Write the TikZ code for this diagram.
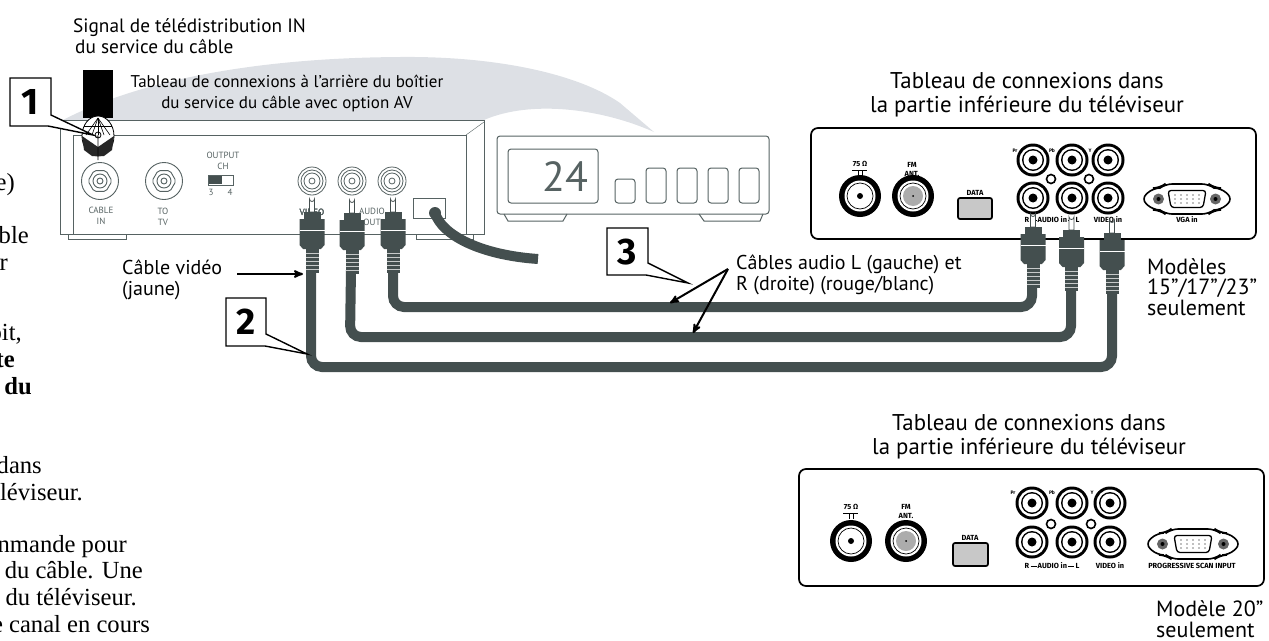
\documentclass[tikz,border=0pt]{standalone}
\usepackage{fontspec}
\setmainfont{Liberation Serif}
\setsansfont{PT Sans}
\newfontfamily\tinylabel{Fira Sans}
\usepackage{tikz}
\usetikzlibrary{arrows}
\usetikzlibrary{calc}
\definecolor{cabledark}{HTML}{444F4F}
\definecolor{boxline}{HTML}{566262}
\definecolor{swoosh}{HTML}{DDE0E5}
\definecolor{lightfill}{HTML}{C8C8C8}
% RCA plug, pin tip at (#1,#2)
\newcommand{\rcaplug}[2]{
  \begin{scope}[shift={(#1,#2)}]
    \draw[fill=white,draw=cabledark,line width=.8pt] (-2.5,15) -- (-2.5,2) arc (180:0:2.5) -- (2.5,15) -- cycle;
    \fill[cabledark] (-8.5,15) rectangle (8.5,22);
    \fill[cabledark] (-12.5,22) -- (12.5,22) -- (12.5,48) -- (9,52) -- (-9,52) -- (-12.5,48) -- cycle;
    \draw[white,line width=.6pt] (-12.5,33) -- (12.5,33);
    \fill[cabledark] (-6.5,52) rectangle (6.5,76);
    \foreach \s in {56,60,...,72} \draw[white!70!cabledark,line width=1pt] (-6.5,\s) -- (6.5,\s);
  \end{scope}
}
% jack on the cable box
\newcommand{\rcajack}[2]{
  \foreach \r in {14,11,8,3} \draw[boxline,line width=.8pt] (#1,#2) circle (\r);
}
% coax socket on the cable box
\newcommand{\coaxjack}[2]{
  \draw[boxline,line width=.9pt] (#1,#2) circle (18.5);
  \draw[boxline,line width=.9pt,rounded corners=2pt,shift={(#1,#2)}] (0:12) -- (60:12) -- (120:12) -- (180:12) -- (240:12) -- (300:12) -- cycle;
  \draw[boxline,line width=.9pt] (#1,#2) circle (7) (#1,#2) circle (3);
}
% jack on the TV
\newcommand{\tvjack}[2]{
  \fill[black] (#1,#2) circle (16.5);
  \fill[white] (#1,#2) circle (13.5);
  \fill[black] (#1,#2) circle (11);
  \fill[white] (#1,#2) circle (9.5);
  \fill[black] (#1,#2) circle (4.5);
}
% antenna socket on the TV
\newcommand{\antjack}[2]{
  \fill[black] (#1,#2) circle (21);
  \fill[white] (#1,#2) circle (15.5);
  \draw[black,line width=.7pt] (#1,#2) circle (13);
}
% VGA socket: centre, half width, screw offset
\newcommand{\vgaport}[4]{
  \draw[black,line width=1.6pt,rounded corners=7pt] (#1-#3,#2) -- (#1-#3+12,#2-11) -- (#1-27,#2-11) -- (#1-22,#2-15) -- (#1+22,#2-15) -- (#1+27,#2-11) -- (#1+#3-12,#2-11) -- (#1+#3,#2) -- (#1+#3-12,#2+11) -- (#1+27,#2+11) -- (#1+22,#2+15) -- (#1-22,#2+15) -- (#1-27,#2+11) -- (#1-#3+12,#2+11) -- cycle;
  \draw[black,line width=1.3pt,rounded corners=3pt,fill=white] (#1-19,#2-8.5) -- (#1+19,#2-8.5) -- (#1+16,#2+8.5) -- (#1-16,#2+8.5) -- cycle;
  \foreach \i in {-12,-6,...,12} \foreach \j in {-4,0,4} \fill[gray] (#1+\i,#2+\j) circle (.8);
  \foreach \sx in {-1,1} {
    \fill[gray!80!black] ({#1+\sx*#4},#2) circle (5.5);
    \fill[black] ({#1+\sx*#4},#2) circle (2);
  }
}

\begin{document}
\begin{tikzpicture}[
    x=1pt,y=-1pt,
    thinbox/.style={draw=boxline,line width=1pt},
    softbox/.style={thinbox,rounded corners=3pt},
    tvpanel/.style={draw=black,line width=1.7pt,rounded corners=7pt},
    cable/.style={draw=cabledark,line width=10pt,rounded corners=11pt},
    callout/.style={draw=black,line width=1.4pt,fill=white},
    pointer/.style={->,>=stealth',line width=2pt},
    numlabel/.style={font=\tinylabel\bfseries\fontsize{37}{37}\selectfont,inner sep=0pt},
    caption/.style={font=\sffamily\fontsize{17}{21}\selectfont,align=center,inner sep=0pt},
    bigcaption/.style={font=\sffamily\fontsize{22.8}{24}\selectfont,align=center,inner sep=0pt},
    leftcaption/.style={font=\sffamily\fontsize{20}{21}\selectfont,align=left,inner sep=0pt},
    modelnote/.style={font=\sffamily\fontsize{22}{20.5}\selectfont,align=left,inner sep=0pt},
    boxtext/.style={font=\sffamily\fontsize{9}{10.5}\selectfont,text=boxline,align=center,inner sep=0pt},
    tvtext/.style={font=\tinylabel\bfseries\fontsize{7.4}{9}\selectfont,align=center,inner sep=0pt},
    tvtiny/.style={font=\tinylabel\bfseries\fontsize{5}{5}\selectfont,inner sep=0pt},
    pagetext/.style={font=\rmfamily\fontsize{24.6}{27}\selectfont,anchor=base east,inner sep=0pt},
    pagebold/.style={pagetext,font=\rmfamily\bfseries\fontsize{24.6}{27}\selectfont}
    ]
    \useasboundingbox (0,0) rectangle (1269,640);

    % text cut by the page edge
    \node[pagetext] (p1) at (15,190) {e)};
    \node[pagetext] (p2) at (29,243) {ble};
    \node[pagetext] (p3) at (8,270) {r};
    \node[pagetext] (p4) at (22,340) {oit,};
    \node[pagebold] (p5) at (15,367) {te};
    \node[pagebold] (p6) at (32,394) {du};
    \node[pagetext] (p7) at (42,473) {dans};
    \node[pagetext] (p8) at (83,500) {léviseur.};
    \node[pagetext] (p9) at (127,552) {nmande pour};
    \node[pagetext] (p10) at (143,578) {du câble. Une};
    \node[pagetext] (p11) at (137,605) {du téléviseur.};
    \node[pagetext] (p12) at (150,632) {e canal en cours};

    % swoosh
    \fill[swoosh] (63,120) .. controls (130,85) and (240,58) .. (400,57) .. controls (500,56) and (580,75) .. (620,103) -- (654,132) .. controls (600,108) and (530,100) .. (484,120) -- cycle;

    % cable box, back
    \draw[thinbox] (484,120) -- (60,120) -- (60,234) -- (484,234) -- cycle;
    \draw[thinbox,fill=white] (73,135) rectangle (466,234);
    \fill[white] (466.5,120.5) rectangle (483.5,233.5);
    \draw[thinbox] (484,120) -- (484,234);
    \draw[boxline,line width=.4pt] (466,135) -- (484,122);
    \draw[thinbox] (68,234) -- (68,239) -- (126,239) -- (126,234);
    \draw[thinbox] (416,234) -- (416,239) -- (473,239) -- (473,234);

    \coaxjack{100}{181}
    \coaxjack{164}{181}
    \node[boxtext] (cablein) at (101,216) {CABLE\\IN};
    \node[boxtext] (totv) at (163,217) {TO\\TV};
    \node[boxtext] (outputch) at (223,161) {OUTPUT\\CH};
    \draw[thinbox] (208,175) rectangle (233,185);
    \fill[cabledark] (209,176) rectangle (222,184);
    \node[boxtext] (ch3) at (211,192) {3};
    \node[boxtext] (ch4) at (230,192) {4};
    \foreach \x in {312,352,392} \rcajack{\x}{181}
    \node[boxtext] (videoout) at (312,212) {VIDEO};
    \node[boxtext] (audioout) at (372,217) {AUDIO\\OUT};
    \draw[thinbox] (413,198) rectangle (445,218);

    % coax going into the box
    \fill[black] (83,70) rectangle (113,118);
    \draw[black,line width=.8pt,fill=white] (98,136) ellipse (16 and 20);
    \fill[black!85] (82,136) -- (98,147) -- (114,136) -- (112,150) -- (104,156) -- (92,156) -- (84,150) -- cycle;
    \foreach \a in {-12,-6,0,6,12} \draw[black,line width=.6pt] (98,118) -- (98+\a,135);
    \draw[black,line width=.6pt] (84,126) -- (112,126);
    \draw[black,line width=.8pt] (98,135) circle (3) -- (98,160);

    % front of the box
    \draw[softbox] (497,136) rectangle (769,214);
    \draw[softbox] (508,149) rectangle (598,203);
    \node[font=\sffamily\fontsize{42}{42}\selectfont,text=boxline,inner sep=0pt] (channel) at (565,177) {24};
    \draw[softbox] (615,179) rectangle (635,203);
    \foreach \x in {646,677,708,739} \draw[softbox] (\x,168) rectangle (\x+20,203);
    \draw[thinbox] (504,214) -- (508,221) -- (563,221) -- (567,214);
    \draw[thinbox] (699,214) -- (704,221) -- (760,221) -- (763,214);

    % TV panels
    \node[bigcaption] (tvtitle) at (1027,95) {Tableau de connexions dans\\la partie inférieure du téléviseur};
    \draw[tvpanel] (811,128) rectangle (1256,239);
    \antjack{860}{196}
    \fill[black] (860,196) circle (3);
    \antjack{913}{196}
    \fill[gray!65] (913,196) circle (10);
    \fill[black] (913,196) circle (1);
    \node[tvtext] (ohm) at (860,164) {75 Ω};
    \draw[black,line width=1pt] (852,170) -- (867,170) (858,170) -- (858,176) (862,170) -- (862,176);
    \node[tvtext] (fmant) at (912,169) {FM\\ANT.};
    \node[tvtext] (data) at (975,193) {DATA};
    \draw[black,line width=1.7pt,fill=lightfill,rounded corners=2pt] (958,198) rectangle (992,219);
    \foreach \x in {1033,1072,1108} {
      \tvjack{\x}{160}
      \tvjack{\x}{198}
    }
    \draw[black,line width=1.6pt] (1051,179) circle (4.5) (1089,179) circle (4.5);
    \node[tvtiny] (pr) at (1015,151) {Pr};
    \node[tvtiny] (pb) at (1052,151) {Pb};
    \node[tvtiny] (yy) at (1090,151) {Y};
    \node[tvtext] (audioin) at (1052,220) {R\,\rule[.5ex]{6pt}{1pt}\,AUDIO in\,\rule[.5ex]{6pt}{1pt}\,L};
    \node[tvtext] (videoin) at (1108,220) {VIDEO in};
    \vgaport{1187}{199}{46}{28.5}
    \node[tvtext] (vgain) at (1187,220) {VGA in};

    \node[bigcaption] (tvtitleb) at (1029,437) {Tableau de connexions dans\\la partie inférieure du téléviseur};
    \draw[tvpanel] (799,469) rectangle (1264,586);
    \antjack{851}{541}
    \fill[black] (851,541) circle (3);
    \antjack{906}{541}
    \fill[gray!65] (906,541) circle (10);
    \fill[black] (906,541) circle (1);
    \node[tvtext] (ohmb) at (851,507) {75 Ω};
    \draw[black,line width=1pt] (843,513) -- (858,513) (849,513) -- (849,519) (853,513) -- (853,519);
    \node[tvtext] (fmantb) at (906,511) {FM\\ANT.};
    \node[tvtext] (datab) at (970,538) {DATA};
    \draw[black,line width=1.7pt,fill=lightfill,rounded corners=2pt] (953,543) rectangle (988,566);
    \foreach \x in {1032,1072,1110} {
      \tvjack{\x}{503}
      \tvjack{\x}{542}
    }
    \draw[black,line width=1.6pt] (1051,524) circle (4.5) (1091,524) circle (4.5);
    \node[tvtiny] (prb) at (1013,493) {Pr};
    \node[tvtiny] (pbb) at (1052,493) {Pb};
    \node[tvtiny] (yb) at (1092,493) {Y};
    \node[tvtext] (audioinb) at (1052,566) {R\,\rule[.5ex]{6pt}{1pt}\,AUDIO in\,\rule[.5ex]{6pt}{1pt}\,L};
    \node[tvtext] (videoinb) at (1110,566) {VIDEO in};
    \vgaport{1193}{544}{48}{30.5}
    \node[tvtext] (scaninput) at (1192,566) {PROGRESSIVE SCAN INPUT};

    % cables
    \coordinate (videoend) at (311,270);
    \coordinate (videotv) at (1112,290);
    \coordinate (leftend) at (351,270);
    \coordinate (lefttv) at (1071,285);
    \coordinate (rightend) at (393,270);
    \coordinate (righttv) at (1032,285);
    \draw[cable] (videoend) -- (311,367) -- (1112,367) -- (videotv);
    \draw[cable] (leftend) -- (350,337) -- (1071,337) -- (lefttv);
    \draw[cable] (rightend) -- (393,307) -- (1032,307) -- (righttv);
    \fill[cabledark] (435,213) circle (6);
    \draw[draw=cabledark,line width=10pt] (435,213) .. controls (442,235) and (480,255) .. (538,259);
    \rcaplug{312}{197}
    \rcaplug{352}{198}
    \rcaplug{393}{197}
    \rcaplug{1033}{212}
    \rcaplug{1071.5}{215}
    \rcaplug{1112}{218}

    % captions
    \node[caption,align=left,anchor=west,font=\sffamily\fontsize{19.3}{21}\selectfont] (signal) at (73,36) {Signal de télédistribution IN\\\hspace*{2pt}du service du câble};
    \node[caption] (backtitle) at (287,93) {Tableau de connexions à l'arrière du boîtier\\du service du câble avec option AV};
    \node[leftcaption,anchor=west] (videolabel) at (122,280) {Câble vidéo\\(jaune)};
    \node[leftcaption,anchor=west] (audiolabel) at (736,275) {Câbles audio L (gauche) et\\R (droite) (rouge/blanc)};
    \node[modelnote,anchor=west] (modelsa) at (1147,287) {Modèles\\15\symbol{34}/17\symbol{34}/23\symbol{34}\\seulement};
    \node[modelnote,anchor=west] (modelsb) at (1156,619) {Modèle 20\symbol{34}\\seulement};

    % arrows
    \coordinate (videoarrow) at (237,274);
    \coordinate (videotip) at (303,274);
    \coordinate (audiofork) at (728,269);
    \coordinate (audiotipa) at (670,303);
    \coordinate (audiotipb) at (693,333);
    \draw[pointer] (videoarrow) -- (videotip);
    \draw[pointer] (audiofork) -- (audiotipa);
    \draw[pointer] (audiofork) -- (audiotipb);

    % numbered callouts
    \draw[callout] (10,78) -- (51,78) -- (51,115) -- (93,135) -- (48,126) -- (10,126) -- cycle;
    \node[numlabel] (numa) at (30,102) {1};
    \draw[callout] (226,298) -- (266,298) -- (266,334) -- (307,354) -- (265,346) -- (226,346) -- cycle;
    \node[numlabel] (numb) at (246,322) {2};
    \draw[callout] (607,228) -- (648,228) -- (648,263) -- (688,283) -- (646,275) -- (607,275) -- cycle;
    \node[numlabel] (numc) at (627,252) {3};
\end{tikzpicture}
\end{document}
